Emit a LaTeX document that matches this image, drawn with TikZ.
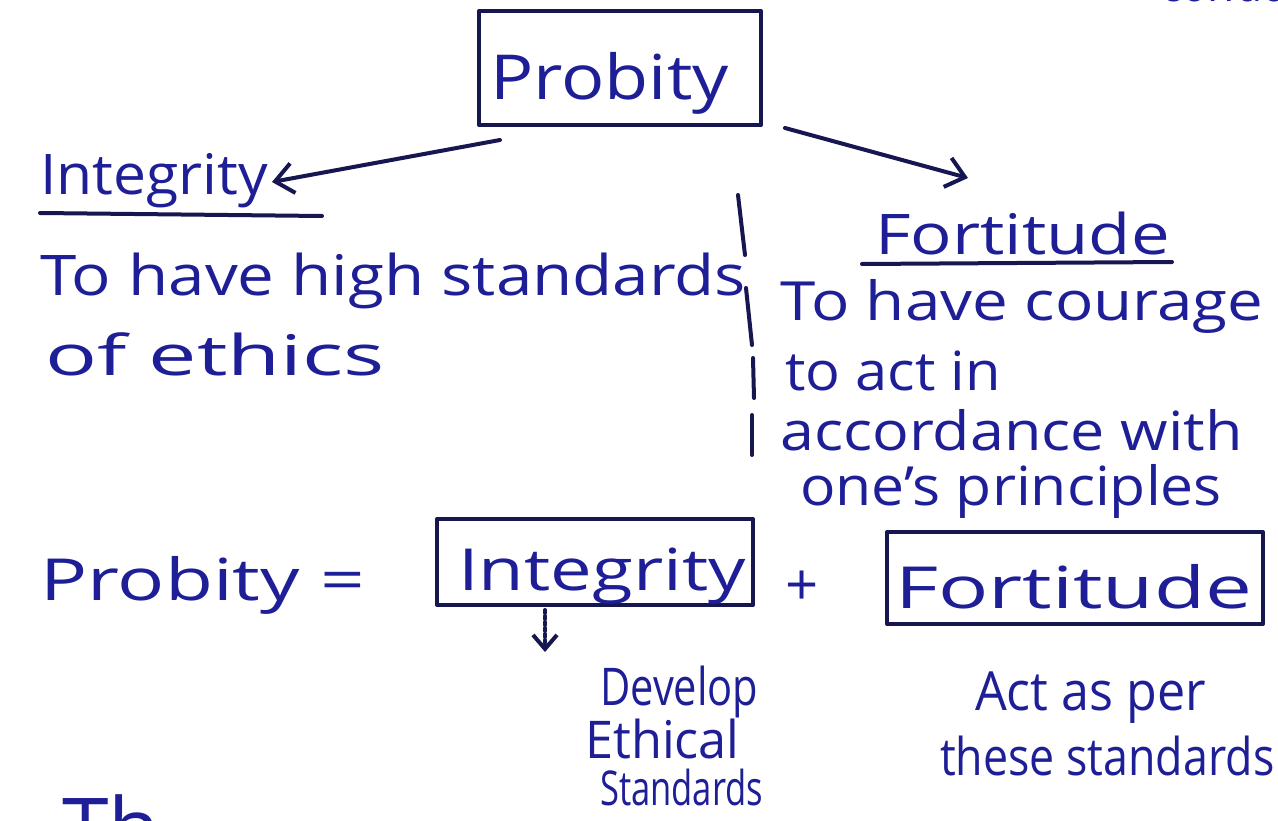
\documentclass[tikz,border=0pt]{standalone}
\usepackage{graphicx}
\usepackage{fontspec}
\setmainfont{Open Sans}
\usetikzlibrary{arrows.meta}
\definecolor{ink}{RGB}{30,30,150}
\definecolor{pen}{RGB}{22,22,80}
% write #3 at size #1 pt, stretched horizontally by #2
\newcommand\inkw[3]{\scalebox{#2}[1]{\fontsize{#1}{#1}\selectfont #3}}
\begin{document}
\begin{tikzpicture}[x=1pt,y=-1pt,
  hand/.style={text=ink, inner sep=0pt, anchor=base west},
  pen/.style={draw=pen, line width=4pt, line cap=round, line join=round},
  framebox/.style={pen, rectangle, inner sep=0pt},
  barb/.style={pen, -{Straight Barb[length=18pt,width=30pt,line width=4pt]}}]
\useasboundingbox (0,0) rectangle (1278,821);
\clip (0,0) rectangle (1278,821);
\fill[white] (0,0) rectangle (1278,821);

% cut-off lines above and below
\node[hand] (topline) at (1160,2) {\inkw{52}{0.85}{conduct}};
\node[hand] (bottomline) at (62,858) {\inkw{84}{1}{Th}};

% central box
\node[framebox, minimum width=282pt, minimum height=114pt] (probity) at (620,68) {};
\node[hand] (probitytxt) at (490,100) {\inkw{62}{1.16}{Probity}};

% left branch
\node[hand] (integ) at (40,195) {\inkw{56}{1.05}{Integrity}};
\draw[pen] (integ.base west) ++(0,18) coordinate (ul1) -- ++(282,3);
\coordinate (lstart) at (500,140);
\coordinate (lend) at (272,182);
\draw[barb] (lstart) -- (lend);
\node[hand] (l1) at (40,295) {\inkw{56}{1.17}{To have high standards}};
\node[hand] (l2) at (45,375) {\inkw{56}{1.54}{of ethics}};

% separator
\draw[pen] (738,195) -- (745,255);
\draw[pen] (746,288) -- (752,345);
\draw[pen] (753,358) -- (754,398);
\draw[pen] (752,415) -- (752,455);

% right branch
\coordinate (rstart) at (785,128);
\coordinate (rend) at (968,178);
\draw[barb] (rstart) -- (rend);
\node[hand] (fort) at (875,255) {\inkw{56}{1.23}{Fortitude}};
\draw[pen] (862,264) -- (1172,262);
\node[hand] (r1) at (780,320) {\inkw{54}{1.18}{To have courage}};
\node[hand] (r2) at (785,390) {\inkw{54}{1.07}{to act in}};
\node[hand] (r3) at (780,450) {\inkw{54}{1.13}{accordance with}};
\node[hand] (r4) at (800,505) {\inkw{54}{1.09}{one's principles}};

% equation
\node[hand] (eq) at (40,600) {\inkw{58}{1.35}{Probity =}};
\node[framebox, minimum width=316pt, minimum height=86pt] (ibox) at (595,562) {};
\node[hand] (itxt) at (458,590) {\inkw{58}{1.28}{Integrity}};
\node[hand] (plus) at (785,605) {\inkw{58}{1}{+}};
\node[framebox, minimum width=376pt, minimum height=92pt] (fbox) at (1075,578) {};
\node[hand] (ftxt) at (895,608) {\inkw{58}{1.44}{Fortitude}};

% consequences
\draw[pen, dashed, -{Straight Barb[length=14pt,width=24pt,line width=4pt]}] (545,610) -- (545,652);
\node[hand] (d1) at (600,705) {\inkw{52}{0.8}{Develop}};
\node[hand] (d2) at (585,758) {\inkw{52}{0.97}{Ethical}};
\node[hand] (d3) at (600,805) {\inkw{48}{0.72}{Standards}};
\node[hand] (a1) at (975,710) {\inkw{54}{0.93}{Act as per}};
\node[hand] (a2) at (940,775) {\inkw{52}{0.86}{these standards}};
\end{tikzpicture}
\end{document}
